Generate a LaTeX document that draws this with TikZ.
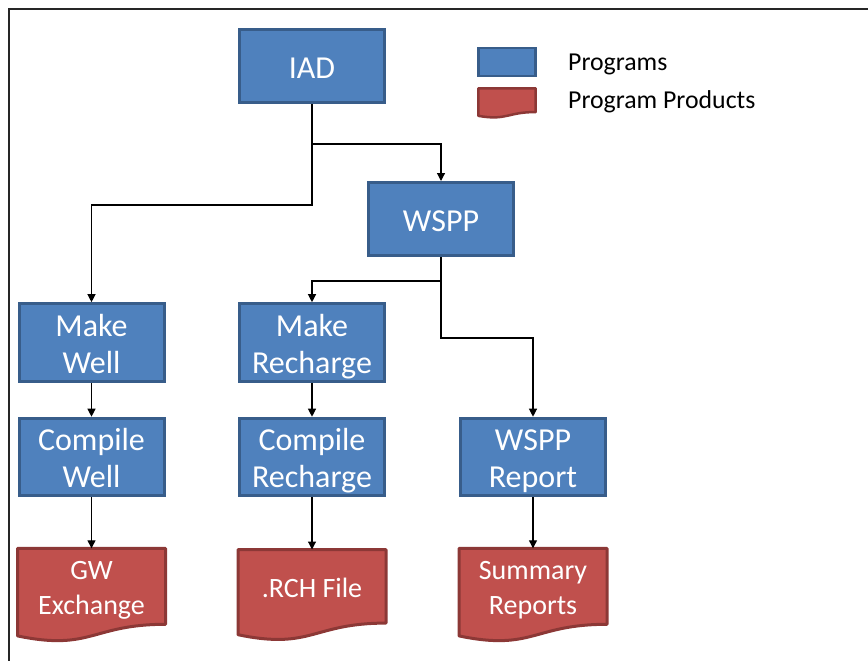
\documentclass[tikz,border=0pt]{standalone}
\usepackage{fontspec}
\setmainfont{Carlito}
\usetikzlibrary{arrows.meta,calc,backgrounds}

\definecolor{progfill}{HTML}{4F81BD}
\definecolor{progline}{HTML}{385D8A}
\definecolor{prodfill}{HTML}{C0504D}
\definecolor{prodline}{HTML}{8C3836}

% fixed line struts so every label sits at the same height in its box
\newcommand{\progtop}{\rule{0pt}{32.6pt}}
\newcommand{\prodtop}{\rule{0pt}{30pt}}
\newcommand{\linebot}{\rule[-8pt]{0pt}{8pt}}

\tikzset{
  program/.style={rectangle, fill=progfill, draw=progline, line width=3pt,
    minimum width=145pt, minimum height=73pt, text=white, align=center,
    font=\fontsize{32}{37}\selectfont, inner sep=0pt},
  product/.style={rectangle, draw=none, outer sep=1.5pt,
    minimum width=145pt, minimum height=70.6pt, text=white, align=center,
    font=\fontsize{28}{35}\selectfont, inner sep=0pt},
  docline/.style={fill=prodfill, draw=prodline, line width=3pt, line join=round},
  conn/.style={draw=black, line width=1.2pt, -{Triangle[width=8pt,length=8pt]}},
  legendtext/.style={anchor=base west, font=\fontsize{25.8}{30}\selectfont, inner sep=0pt},
}

\begin{document}
\begin{tikzpicture}[x=1pt,y=-1pt]
  \useasboundingbox (0,0) rectangle (868,661);

  % frame
  \draw[line width=1.5pt, black!85] (9,661) -- (9,9) -- (868,9);

  % programs
  \node[program] (iad)   at (312,66)     {\progtop IAD\linebot};
  \node[program] (wspp)  at (441,219)    {\progtop WSPP\linebot};
  \node[program] (mwell) at (91.5,342.5) {\progtop Make\\Well\linebot};
  \node[program] (mrech) at (312,342.5)  {\progtop Make\\Recharge\linebot};
  \node[program] (cwell) at (91.5,457)   {\progtop Compile\\Well\linebot};
  \node[program] (crech) at (312,457)    {\progtop Compile\\Recharge\linebot};
  \node[program] (wrep)  at (533,457)    {\progtop WSPP\\Report\linebot};

  % products (outline drawn on the background layer)
  \node[product] (gw)  at (91.5,586.3) {\prodtop GW\\Exchange\linebot};
  \node[product] (rch) at (312,586.3)  {\prodtop .RCH File\linebot};
  \node[product] (sum) at (533,586.3)  {\prodtop Summary\\Reports\linebot};

  % legend
  \node[rectangle, fill=progfill, draw=progline, line width=2.5pt,
        minimum width=57pt, minimum height=28pt] (lprog) at (507,62) {};
  \node[rectangle, draw=none, minimum width=57pt, minimum height=23.3pt] (lprod) at (507,100.2) {};
  \node[legendtext] (lprogtext) at (568,70.7)  {Programs};
  \node[legendtext] (lprodtext) at (568,108.3) {Program Products};

  \begin{scope}[on background layer]
    \foreach \n/\a/\b/\w in {gw/27/11.6/3pt, rch/27/11.6/3pt, sum/27/11.6/3pt, lprod/8.8/3.8/2.5pt}
      \draw[docline, line width=\w] (\n.north west) -- (\n.north east) -- (\n.south east)
        .. controls (\n.south) and ($(\n.south)+(0,\a)$) .. ($(\n.south west)+(0,\b)$) -- cycle;
  \end{scope}

  % connectors
  \draw[conn] (iad.south) -- ++(0,40) -| (wspp.north);
  \draw[conn] (iad.south) -- ++(0,101) -| (mwell.north);
  \draw[conn] (wspp.south) -- ++(0,24) -| (mrech.north);
  \draw[conn] (wspp.south) -- ++(0,81) -| (wrep.north);
  \draw[conn] (mwell) -- (cwell);
  \draw[conn] (mrech) -- (crech);
  \draw[conn] (cwell) -- (gw);
  \draw[conn] (crech) -- (rch);
  \draw[conn] (wrep) -- (sum);
\end{tikzpicture}
\end{document}
